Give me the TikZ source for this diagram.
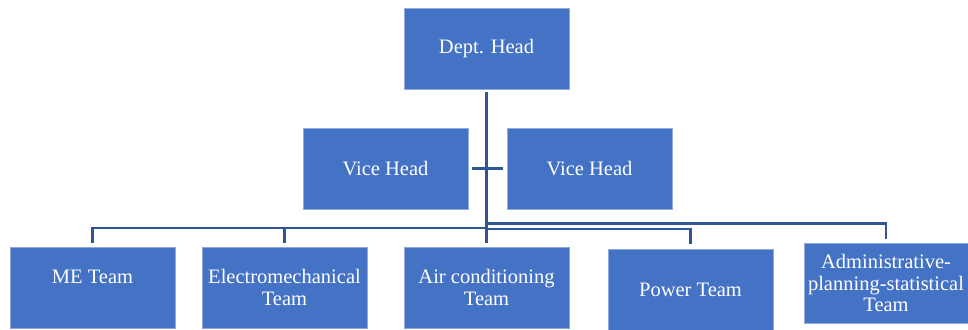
\documentclass[tikz,border=0pt]{standalone}
\usepackage{fontspec}
\setmainfont{Liberation Serif}
\definecolor{boxblue}{RGB}{68,114,196}
\definecolor{boxedge}{RGB}{143,170,220}
\definecolor{wireblue}{RGB}{47,85,151}
\begin{document}
\begin{tikzpicture}[x=1pt,y=-1pt,
  unit/.style={rectangle, fill=boxblue, draw=boxedge, line width=0.6pt,
    minimum width=165pt, minimum height=81pt, inner sep=0pt,
    text=white, align=center, font=\fontsize{20.5}{21.5}\selectfont},
  wire/.style={draw=wireblue, line width=2.4pt}]
\useasboundingbox (0,0) rectangle (968,329);

% boxes
\node[unit] (dh) at (486.5,48.5) {Dept. Head};
\node[unit] (vl) at (385.5,168.5) {Vice Head};
\node[unit] (vr) at (589.5,168.5) {Vice Head};
\node[unit] (me) at (92.5,287.5) {ME Team\\\mbox{}};
\node[unit] (el) at (284.5,287.5) {Electromechanical\\Team};
\node[unit] (ac) at (486.5,287.5) {Air conditioning\\Team};
\node[unit] (pw) at (690.5,289.5) {Power Team};
\node[unit, minimum width=164pt, minimum height=80pt] (ad) at (886,283) {Administrative-\\planning-statistical\\Team};

% bus points on the trunk
\coordinate (busL) at (486.5,228);
\coordinate (busP) at (486.5,229);
\coordinate (busA) at (486.5,223.5);

% trunk and vice link
\draw[wire, shorten <=3pt, shorten >=4pt] (dh.south) -- (ac.north);
\draw[wire, shorten <=4pt, shorten >=4pt] (vl.east) -- (vr.west);

% branches to teams
\draw[wire, shorten >=4pt] (busL) -| (me.north);
\draw[wire, shorten >=4pt] (el.north |- busL) -- (el.north);
\draw[wire, shorten >=5pt] (busP) -| (pw.north);
\draw[wire, shorten >=4pt] (busA) -| (ad.north);
\end{tikzpicture}
\end{document}
